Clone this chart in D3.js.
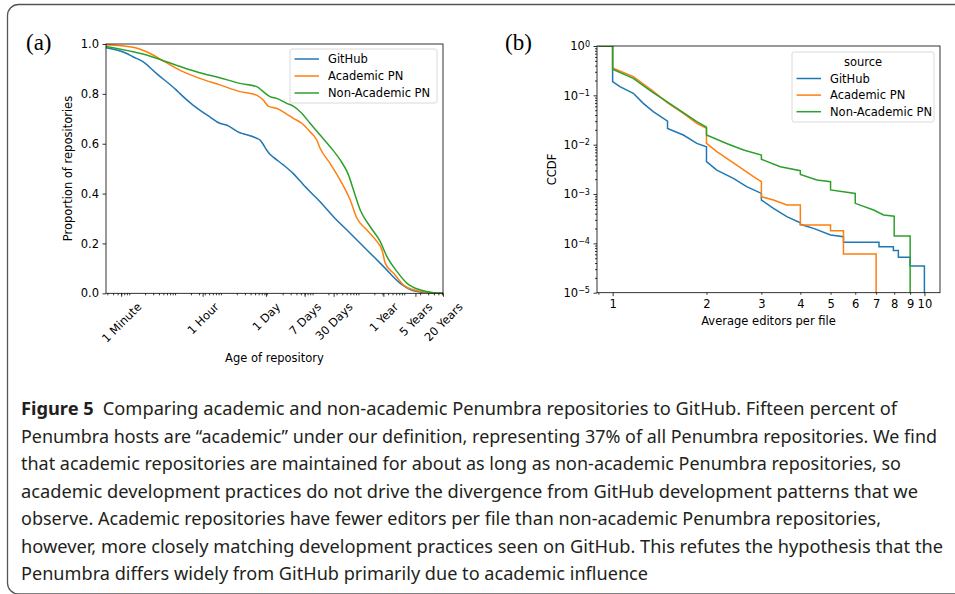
<!DOCTYPE html>
<html>
<head>
<meta charset="utf-8">
<script src="https://cdn.jsdelivr.net/npm/d3@7"></script>
<style>
  body { margin: 0; background: #fff; }
  svg text { font-family: "DejaVu Sans", sans-serif; }
</style>
</head>
<body>
<svg id="fig" width="955" height="594"></svg>
<script>
// ---- data ----
const seriesNames = ["GitHub", "Academic PN", "Non-Academic PN"];
const colors = ["#1f77b4", "#ff7f0e", "#2ca02c"];

// panel (a): age of repository in seconds -> proportion of repositories still alive
const ageTickValues = [60, 3600, 86400, 604800, 2592000, 31557600, 157788000, 631152000];
const ageTickLabels = ["1 Minute", "1 Hour", "1 Day", "7 Days", "30 Days", "1 Year", "5 Years", "20 Years"];

const ageGitHub = [[28,0.985],[77,0.963],[108,0.949],[179,0.929],[351,0.882],[962,0.815],[1135,0.802],
  [2218,0.755],[3110,0.735],[5150,0.708],[8510,0.682],[11940,0.675],[23330,0.644],[27540,0.640],
  [54200,0.622],[64000,0.615],[75500,0.597],[89500,0.575],[105900,0.558],[125000,0.546],[207000,0.515],
  [342000,0.480],[463000,0.454],[617000,0.428],[1.314e6,0.367],[2.57e6,0.307],[5.96e6,0.241],
  [1.38e7,0.174],[3.19e7,0.107],[7.39e7,0.040],[1.445e8,0.010],[3.36e8,0.001],[6.31e8,0]];
const ageAcademic = [[28,0.997],[108,0.987],[251,0.963],[581,0.925],[1340,0.889],[3110,0.862],
  [8510,0.836],[23330,0.809],[54200,0.795],[75500,0.775],[97100,0.751],[148000,0.742],[245000,0.719],
  [342000,0.702],[523000,0.682],[794000,0.648],[1.11e6,0.615],[1.314e6,0.582],[2.17e6,0.521],
  [3.6e6,0.454],[5.96e6,0.374],[8.35e6,0.301],[1.38e7,0.254],[2.29e7,0.207],[2.94e7,0.174],
  [3.48e7,0.120],[5.28e7,0.080],[8.73e7,0.033],[1.72e8,0.010],[3.96e8,0.001],[6.31e8,0]];
const ageNonAcademic = [[28,0.990],[108,0.969],[251,0.952],[581,0.929],[1340,0.906],[3110,0.885],
  [8510,0.865],[23330,0.842],[54200,0.829],[75500,0.809],[105900,0.789],[148000,0.782],[245000,0.762],
  [342000,0.751],[523000,0.722],[794000,0.682],[1.314e6,0.635],[2.17e6,0.588],[3.6e6,0.535],
  [5.47e6,0.475],[7.03e6,0.414],[9.86e6,0.334],[1.63e7,0.267],[2.7e7,0.207],[3.78e7,0.147],
  [6.27e7,0.087],[1.04e8,0.040],[2.03e8,0.013],[3.96e8,0.002],[6.31e8,0]];

// panel (b): average editors per file -> CCDF (1e-6 stands for "drops to zero")
const edGitHub = [[0.9,1],[1,1],[1,0.189],[1.055,0.15],[1.165,0.11],[1.254,0.0689],[1.35,0.0467],
  [1.5,0.030],[1.5,0.0214],[1.686,0.0157],[1.862,0.0106],[2,0.0091],[2,0.00452],[2.158,0.00306],
  [2.44,0.00208],[2.69,0.00141],[3,0.00103],[3,0.000755],[3.28,0.000513],[3.62,0.000347],
  [4,0.000262],[4,0.000243],[4.41,0.000201],[5,0.000148],[5.5,0.000136],[5.5,0.000105],
  [7.15,0.000105],[7.15,0.0000852],[7.95,0.0000852],[7.95,0.000072],[8.25,0.000072],[8.25,0.000052],
  [9,0.000052],[9,0.0000347],[10,0.0000347],[10,1e-6]];
const edAcademic = [[0.9,1],[1,1],[1,0.36],[1.165,0.239],[1.334,0.128],[1.509,0.0689],[1.686,0.0432],
  [1.862,0.0271],[2,0.0214],[2,0.0106],[2.158,0.00721],[2.5,0.00387],[2.83,0.00224],[3,0.00178],
  [3,0.000883],[3.28,0.000755],[3.62,0.000598],[4,0.000598],[4,0.000235],[5,0.000235],[5,0.00018],
  [5.5,0.00018],[5.5,0.0000607],[7,0.0000607],[7,1e-6]];
const edNonAcademic = [[0.9,1],[1,1],[1,0.337],[1.165,0.221],[1.334,0.119],[1.509,0.071],[1.686,0.0445],
  [1.862,0.0292],[2,0.0225],[2,0.0157],[2.32,0.0106],[2.63,0.0078],[3,0.00617],[3,0.00505],
  [3.45,0.00358],[4,0.00297],[4,0.00249],[4.52,0.00192],[5,0.00178],[5,0.00121],[6,0.00103],
  [6,0.000647],[6.87,0.000473],[7.4,0.000375],[8,0.000354],[8,0.000141],[9,0.000141],[9,1e-6]];

const editorTicks = [1, 2, 3, 4, 5, 6, 7, 8, 9, 10];
const ccdfTicks = [1e-5, 1e-4, 1e-3, 1e-2, 1e-1, 1];

const captionBold = "Figure 5";
const captionLines = [
  "Comparing academic and non-academic Penumbra repositories to GitHub. Fifteen percent of",
  "Penumbra hosts are \u201cacademic\u201d under our definition, representing 37% of all Penumbra repositories. We find",
  "that academic repositories are maintained for about as long as non-academic Penumbra repositories, so",
  "academic development practices do not drive the divergence from GitHub development patterns that we",
  "observe. Academic repositories have fewer editors per file than non-academic Penumbra repositories,",
  "however, more closely matching development practices seen on GitHub. This refutes the hypothesis that the",
  "Penumbra differs widely from GitHub primarily due to academic influence"
];
const captionEnds = [897, 937, 901, 918, 881, 943, 648];

// ---- drawing ----
const svg = d3.select("#fig");
const FS = 11.5;

svg.append("rect").attr("width", 955).attr("height", 594).attr("fill", "#fff");

// frame around the figure
svg.append("path")
  .attr("d", "M955,4.5H18.5A11,11 0 0 0 7.5,15.5V583A11,11 0 0 0 18.5,594H955")
  .attr("fill", "none").attr("stroke", "#555").attr("stroke-width", 1.3);

function styleAxis(g) {
  g.select(".domain").remove();
  g.selectAll(".tick line").attr("stroke", "#000").attr("stroke-width", 0.8);
  g.selectAll(".tick text").attr("fill", "#000").attr("font-size", FS).attr("font-family", "DejaVu Sans");
}

function logMinor(lo, hi, from, to) {
  const out = [];
  for (let k = from; k <= to; k++)
    for (let m = 2; m <= 9; m++) {
      const v = m * Math.pow(10, k);
      if (v >= lo && v <= hi) out.push(v);
    }
  return out;
}

function legend(x, y, w, h, rows, title) {
  const g = svg.append("g");
  g.append("rect").attr("x", x).attr("y", y).attr("width", w).attr("height", h)
    .attr("rx", 2).attr("fill", "#fff").attr("fill-opacity", 0.8)
    .attr("stroke", "#d0d0d0").attr("stroke-width", 0.8);
  let y0 = y + 10;
  if (title) {
    g.append("text").attr("x", x + w / 2).attr("y", y0).attr("dy", "0.35em")
      .attr("text-anchor", "middle").attr("font-size", FS).text(title);
    y0 += 16.5;
  }
  seriesNames.forEach((name, i) => {
    const yy = y0 + i * rows;
    g.append("line").attr("x1", x + 4.5).attr("x2", x + 29).attr("y1", yy).attr("y2", yy)
      .attr("stroke", colors[i]).attr("stroke-width", 1.5);
    g.append("text").attr("x", x + 38).attr("y", yy).attr("dy", "0.35em")
      .attr("font-size", FS).text(name);
  });
}

// ---------- panel (a) ----------
const xA = d3.scaleLog().domain([28, 6.31e8]).range([106, 443]);
const yA = d3.scaleLinear().domain([0, 1]).range([293.3, 44]);

svg.append("clipPath").attr("id", "clipA").append("rect")
  .attr("x", 106).attr("y", 44).attr("width", 337).attr("height", 249.3);

const lineA = d3.line().x(d => xA(d[0])).y(d => yA(d[1])).curve(d3.curveMonotoneX);
[ageGitHub, ageAcademic, ageNonAcademic].forEach((s, i) => {
  svg.append("path").datum(s).attr("d", lineA).attr("clip-path", "url(#clipA)")
    .attr("fill", "none").attr("stroke", colors[i]).attr("stroke-width", 1.5)
    .attr("stroke-linejoin", "round");
});

svg.append("g").attr("transform", `translate(0,${yA(0)})`)
  .call(d3.axisBottom(xA).tickValues(logMinor(28, 6.31e8, 1, 8)).tickSize(2).tickFormat(""))
  .call(styleAxis);

const axA = svg.append("g").attr("transform", `translate(0,${yA(0)})`)
  .call(d3.axisBottom(xA).tickValues(ageTickValues).tickSize(3.5).tickPadding(3.5)
    .tickFormat((d, i) => ageTickLabels[i]))
  .call(styleAxis);
axA.selectAll(".tick text").each(function () {
  const t = d3.select(this);
  const w = this.getComputedTextLength();
  const off = 7 + (w + FS * 1.1) / (2 * Math.SQRT2);
  t.attr("y", 0).attr("dy", null).attr("x", 0)
    .attr("text-anchor", "middle").attr("dominant-baseline", "central")
    .attr("transform", `translate(0,${off})rotate(-45)`);
});

svg.append("g").attr("transform", "translate(106,0)")
  .call(d3.axisLeft(yA).tickValues([0, 0.2, 0.4, 0.6, 0.8, 1]).tickSize(3.5).tickPadding(3.5)
    .tickFormat(d3.format(".1f")))
  .call(styleAxis);

svg.append("rect").attr("x", 106).attr("y", 44).attr("width", 337).attr("height", 249.3)
  .attr("fill", "none").attr("stroke", "#000").attr("stroke-width", 0.8);

svg.append("text").attr("transform", "translate(68,168.5)rotate(-90)").attr("dy", "0.35em")
  .attr("text-anchor", "middle").attr("font-size", FS).text("Proportion of repositories");
svg.append("text").attr("x", 274.5).attr("y", 358).attr("dy", "0.35em")
  .attr("text-anchor", "middle").attr("font-size", FS).text("Age of repository");

legend(290, 49, 147, 54, 17, null);

svg.append("text").attr("x", 26).attr("y", 50).attr("font-size", 23)
  .style("font-family", "'Liberation Serif', serif").text("(a)");

// ---------- panel (b) ----------
const xB = d3.scaleLog().domain([0.891, 11.22]).range([597, 940]);
const yB = d3.scaleLog().domain([1e-5, 1]).range([292.7, 46]);

svg.append("clipPath").attr("id", "clipB").append("rect")
  .attr("x", 597).attr("y", 46).attr("width", 343).attr("height", 246.7);

const lineB = d3.line().x(d => xB(d[0])).y(d => yB(d[1]));
[edGitHub, edAcademic, edNonAcademic].forEach((s, i) => {
  svg.append("path").datum(s).attr("d", lineB).attr("clip-path", "url(#clipB)")
    .attr("fill", "none").attr("stroke", colors[i]).attr("stroke-width", 1.5)
    .attr("stroke-linejoin", "miter");
});

svg.append("g").attr("transform", `translate(0,${yB(1e-5)})`)
  .call(d3.axisBottom(xB).tickValues([0.9]).tickSize(2).tickFormat(""))
  .call(styleAxis);
svg.append("g").attr("transform", `translate(0,${yB(1e-5)})`)
  .call(d3.axisBottom(xB).tickValues(editorTicks).tickSize(3.5).tickPadding(3.5)
    .tickFormat(d3.format("d")))
  .call(styleAxis)
  .selectAll(".tick line").attr("y2", d => (d === 1 || d === 10) ? 3.5 : 2);

svg.append("g").attr("transform", "translate(597,0)")
  .call(d3.axisLeft(yB).tickValues(logMinor(1e-5, 1, -5, -1)).tickSize(2).tickFormat(""))
  .call(styleAxis);
const ayB = svg.append("g").attr("transform", "translate(597,0)")
  .call(d3.axisLeft(yB).tickValues(ccdfTicks).tickSize(3.5).tickPadding(3.5).tickFormat(""))
  .call(styleAxis);
ayB.selectAll(".tick text").each(function (d) {
  const t = d3.select(this);
  const e = Math.round(Math.log10(d));
  t.append("tspan").text("10");
  t.append("tspan").attr("dy", "-0.45em").attr("font-size", FS * 0.7)
    .text(e < 0 ? "\u2212" + (-e) : String(e));
});

svg.append("rect").attr("x", 597).attr("y", 46).attr("width", 343).attr("height", 246.7)
  .attr("fill", "none").attr("stroke", "#000").attr("stroke-width", 0.8);

svg.append("text").attr("transform", "translate(552,169.5)rotate(-90)").attr("dy", "0.35em")
  .attr("text-anchor", "middle").attr("font-size", FS).text("CCDF");
svg.append("text").attr("x", 768.5).attr("y", 321).attr("dy", "0.35em")
  .attr("text-anchor", "middle").attr("font-size", FS).text("Average editors per file");

legend(792, 52, 142, 70, 16.6, "source");

svg.append("text").attr("x", 505).attr("y", 50).attr("font-size", 23)
  .style("font-family", "'Liberation Serif', serif").text("(b)");

// ---------- caption ----------
const capX = 21, capY0 = 415, capStep = 27.5;
captionLines.forEach((line, i) => {
  const t = svg.append("text").attr("x", capX).attr("y", capY0 + i * capStep)
    .style("font-family", "'Noto Sans', 'Open Sans', sans-serif").attr("font-size", 18)
    .attr("fill", "#231f20")
    .attr("textLength", captionEnds[i] - capX).attr("lengthAdjust", "spacingAndGlyphs");
  if (i === 0) {
    t.append("tspan").attr("font-weight", "bold").text(captionBold);
    t.append("tspan").text("\u2002" + line);
  } else {
    t.text(line);
  }
});
</script>
</body>
</html>
